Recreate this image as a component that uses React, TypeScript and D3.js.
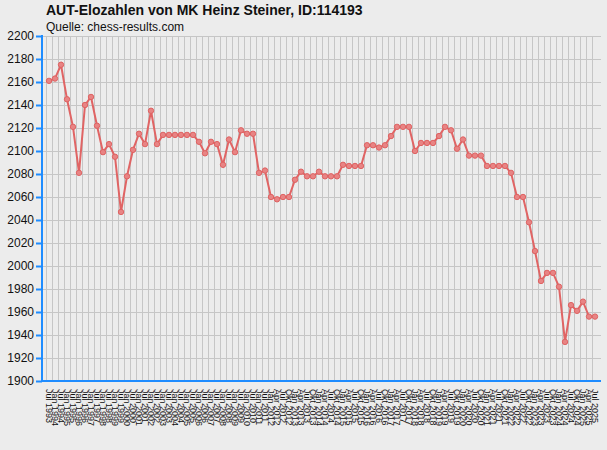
import { select, scaleLinear, scalePoint, axisLeft, axisBottom, line, range, format } from "d3";
import { useRef, useEffect } from "react";

// rating list dates (semi-annual until Jan 2012, then quarterly)
const dates = [
  "Jul 1993", "Jan 1994", "Jul 1994", "Jan 1995", "Jul 1995", "Jan 1996", "Jul 1996",
  "Jan 1997", "Jul 1997", "Jan 1998", "Jul 1998", "Jan 1999", "Jul 1999", "Jan 2000",
  "Jul 2000", "Jan 2001", "Jul 2001", "Jan 2002", "Jul 2002", "Jan 2003", "Jul 2003",
  "Jan 2004", "Jul 2004", "Jan 2005", "Jul 2005", "Jan 2006", "Jul 2006", "Jan 2007",
  "Jul 2007", "Jan 2008", "Jul 2008", "Jan 2009", "Jul 2009", "Jan 2010", "Jul 2010",
  "Jan 2011", "Jul 2011", "Jan 2012",
  "Apr 2012", "Jul 2012", "Okt 2012",
  "Jan 2013", "Apr 2013", "Jul 2013", "Okt 2013",
  "Jan 2014", "Apr 2014", "Jul 2014", "Okt 2014",
  "Jan 2015", "Apr 2015", "Jul 2015", "Okt 2015",
  "Jan 2016", "Apr 2016", "Jul 2016", "Okt 2016",
  "Jan 2017", "Apr 2017", "Jul 2017", "Okt 2017",
  "Jan 2018", "Apr 2018", "Jul 2018", "Okt 2018",
  "Jan 2019", "Apr 2019", "Jul 2019", "Okt 2019",
  "Jan 2020", "Apr 2020", "Jul 2020", "Okt 2020",
  "Jan 2021", "Apr 2021", "Jul 2021", "Okt 2021",
  "Jan 2022", "Apr 2022", "Jul 2022", "Okt 2022",
  "Jan 2023", "Apr 2023", "Jul 2023", "Okt 2023",
  "Jan 2024", "Apr 2024", "Jul 2024", "Okt 2024",
  "Jan 2025", "Apr 2025", "Jul 2025",
];

const elo = [
  2161, 2163, 2175, 2145, 2121, 2081, 2140, 2147, 2122, 2099,
  2106, 2095, 2047, 2078, 2101, 2115, 2106, 2135, 2106, 2114,
  2114, 2114, 2114, 2114, 2114, 2108, 2098, 2108, 2106, 2088,
  2110, 2099, 2118, 2115, 2115, 2081, 2083, 2060, 2058, 2060,
  2060, 2075, 2082, 2078, 2078, 2082, 2078, 2078, 2078, 2088,
  2087, 2087, 2087, 2105, 2105, 2103, 2105, 2113, 2121, 2121,
  2121, 2100, 2107, 2107, 2107, 2113, 2121, 2118, 2102, 2110,
  2096, 2096, 2096, 2087, 2087, 2087, 2087, 2081, 2060, 2060,
  2038, 2013, 1987, 1994, 1994, 1982, 1934, 1966, 1961, 1969,
  1956, 1956,
];

const yTicks = range(1900, 2201, 20);

const W = 607;
const H = 450;
const left = 42;
const right = 601;
const top = 36;
const bottom = 381;
const font = "'Liberation Sans', Arial, sans-serif";
const blue = "#1e8cff";

const App = () => {
  const svgRef = useRef<SVGSVGElement>(null);

  useEffect(() => {
    const svg = select(svgRef.current);

    const x = scalePoint<string>().domain(dates).range([49, 595]);
    const y = scaleLinear().domain([1900, 2200]).range([bottom, top]);
    const step = x.step();

    // grid
    const grid = svg.select(".grid");
    grid
      .selectAll(".vgrid")
      .data(dates)
      .join("line")
      .attr("class", "vgrid")
      .attr("x1", (d: string) => Math.round(x(d)! - step / 2) + 0.5)
      .attr("x2", (d: string) => Math.round(x(d)! - step / 2) + 0.5)
      .attr("y1", top)
      .attr("y2", bottom)
      .attr("stroke", "#c6c6c6");
    grid
      .selectAll(".hgrid")
      .data(yTicks)
      .join("line")
      .attr("class", "hgrid")
      .attr("x1", left)
      .attr("x2", right)
      .attr("y1", (d: number) => Math.round(y(d)) + 0.5)
      .attr("y2", (d: number) => Math.round(y(d)) + 0.5)
      .attr("stroke", "#c6c6c6");

    // y axis
    const yAxis = axisLeft(y).tickValues(yTicks).tickFormat(format("d")).tickSize(6).tickPadding(2);
    const ya = svg.select<SVGGElement>(".y-axis").attr("transform", `translate(${left},0)`).call(yAxis);
    ya.select(".domain").remove();
    ya.selectAll(".tick line").attr("stroke", blue).attr("stroke-width", 2);
    ya.selectAll(".tick text")
      .attr("fill", "#111")
      .style("font-family", font)
      .style("font-size", "12px");
    ya.selectAll(".vline")
      .data([0])
      .join("line")
      .attr("class", "vline")
      .attr("x1", 0)
      .attr("x2", 0)
      .attr("y1", top - 1)
      .attr("y2", bottom + 1)
      .attr("stroke", blue)
      .attr("stroke-width", 2);

    // x axis
    const xAxis = axisBottom(x).tickSize(7);
    const xa = svg.select<SVGGElement>(".x-axis").attr("transform", `translate(0,${bottom})`).call(xAxis);
    xa.select(".domain").remove();
    xa.selectAll(".tick line").attr("stroke", "url(#tickGrad)").attr("stroke-width", 3);
    xa.selectAll(".tick text")
      .attr("transform", "rotate(90)")
      .attr("x", 8)
      .attr("y", 0)
      .attr("dy", "0.35em")
      .attr("fill", "#111")
      .style("text-anchor", "start")
      .style("font-family", font)
      .style("font-size", "9px");
    xa.selectAll(".hline")
      .data([0])
      .join("line")
      .attr("class", "hline")
      .attr("x1", left - 1)
      .attr("x2", right)
      .attr("y1", 0)
      .attr("y2", 0)
      .attr("stroke", blue)
      .attr("stroke-width", 2);

    // series
    const path = line<number>()
      .x((_, i) => x(dates[i])!)
      .y((d) => y(d));
    svg
      .select(".series")
      .selectAll("path")
      .data([elo])
      .join("path")
      .attr("d", path)
      .attr("fill", "none")
      .attr("stroke", "#e06464")
      .attr("stroke-width", 2);
    svg
      .select(".series")
      .selectAll("circle")
      .data(elo)
      .join("circle")
      .attr("cx", (_: number, i: number) => x(dates[i])!)
      .attr("cy", (d: number) => y(d))
      .attr("r", 2.7)
      .attr("fill", "#e88484")
      .attr("stroke", "#df6262")
      .attr("stroke-width", 1);
  }, []);

  return (
    <svg
      ref={svgRef}
      width={W}
      height={H}
      style={{ position: "absolute", left: 0, top: 0, display: "block" }}
    >
      <defs>
        <linearGradient id="tickGrad" x1="0" y1="0" x2="0" y2="1">
          <stop offset="0%" stopColor={blue} />
          <stop offset="100%" stopColor="#9cc8f4" />
        </linearGradient>
      </defs>
      <rect width={W} height={H} fill="#ececec" />
      <text x={46} y={15} fontFamily={font} fontWeight="bold" fontSize={14} fill="#111">
        AUT-Elozahlen von MK Heinz Steiner, ID:114193
      </text>
      <text x={46} y={31} fontFamily={font} fontSize={12} fill="#111">
        Quelle: chess-results.com
      </text>
      <g className="grid" />
      <g className="series" />
      <g className="y-axis" />
      <g className="x-axis" />
    </svg>
  );
};

export default App;
